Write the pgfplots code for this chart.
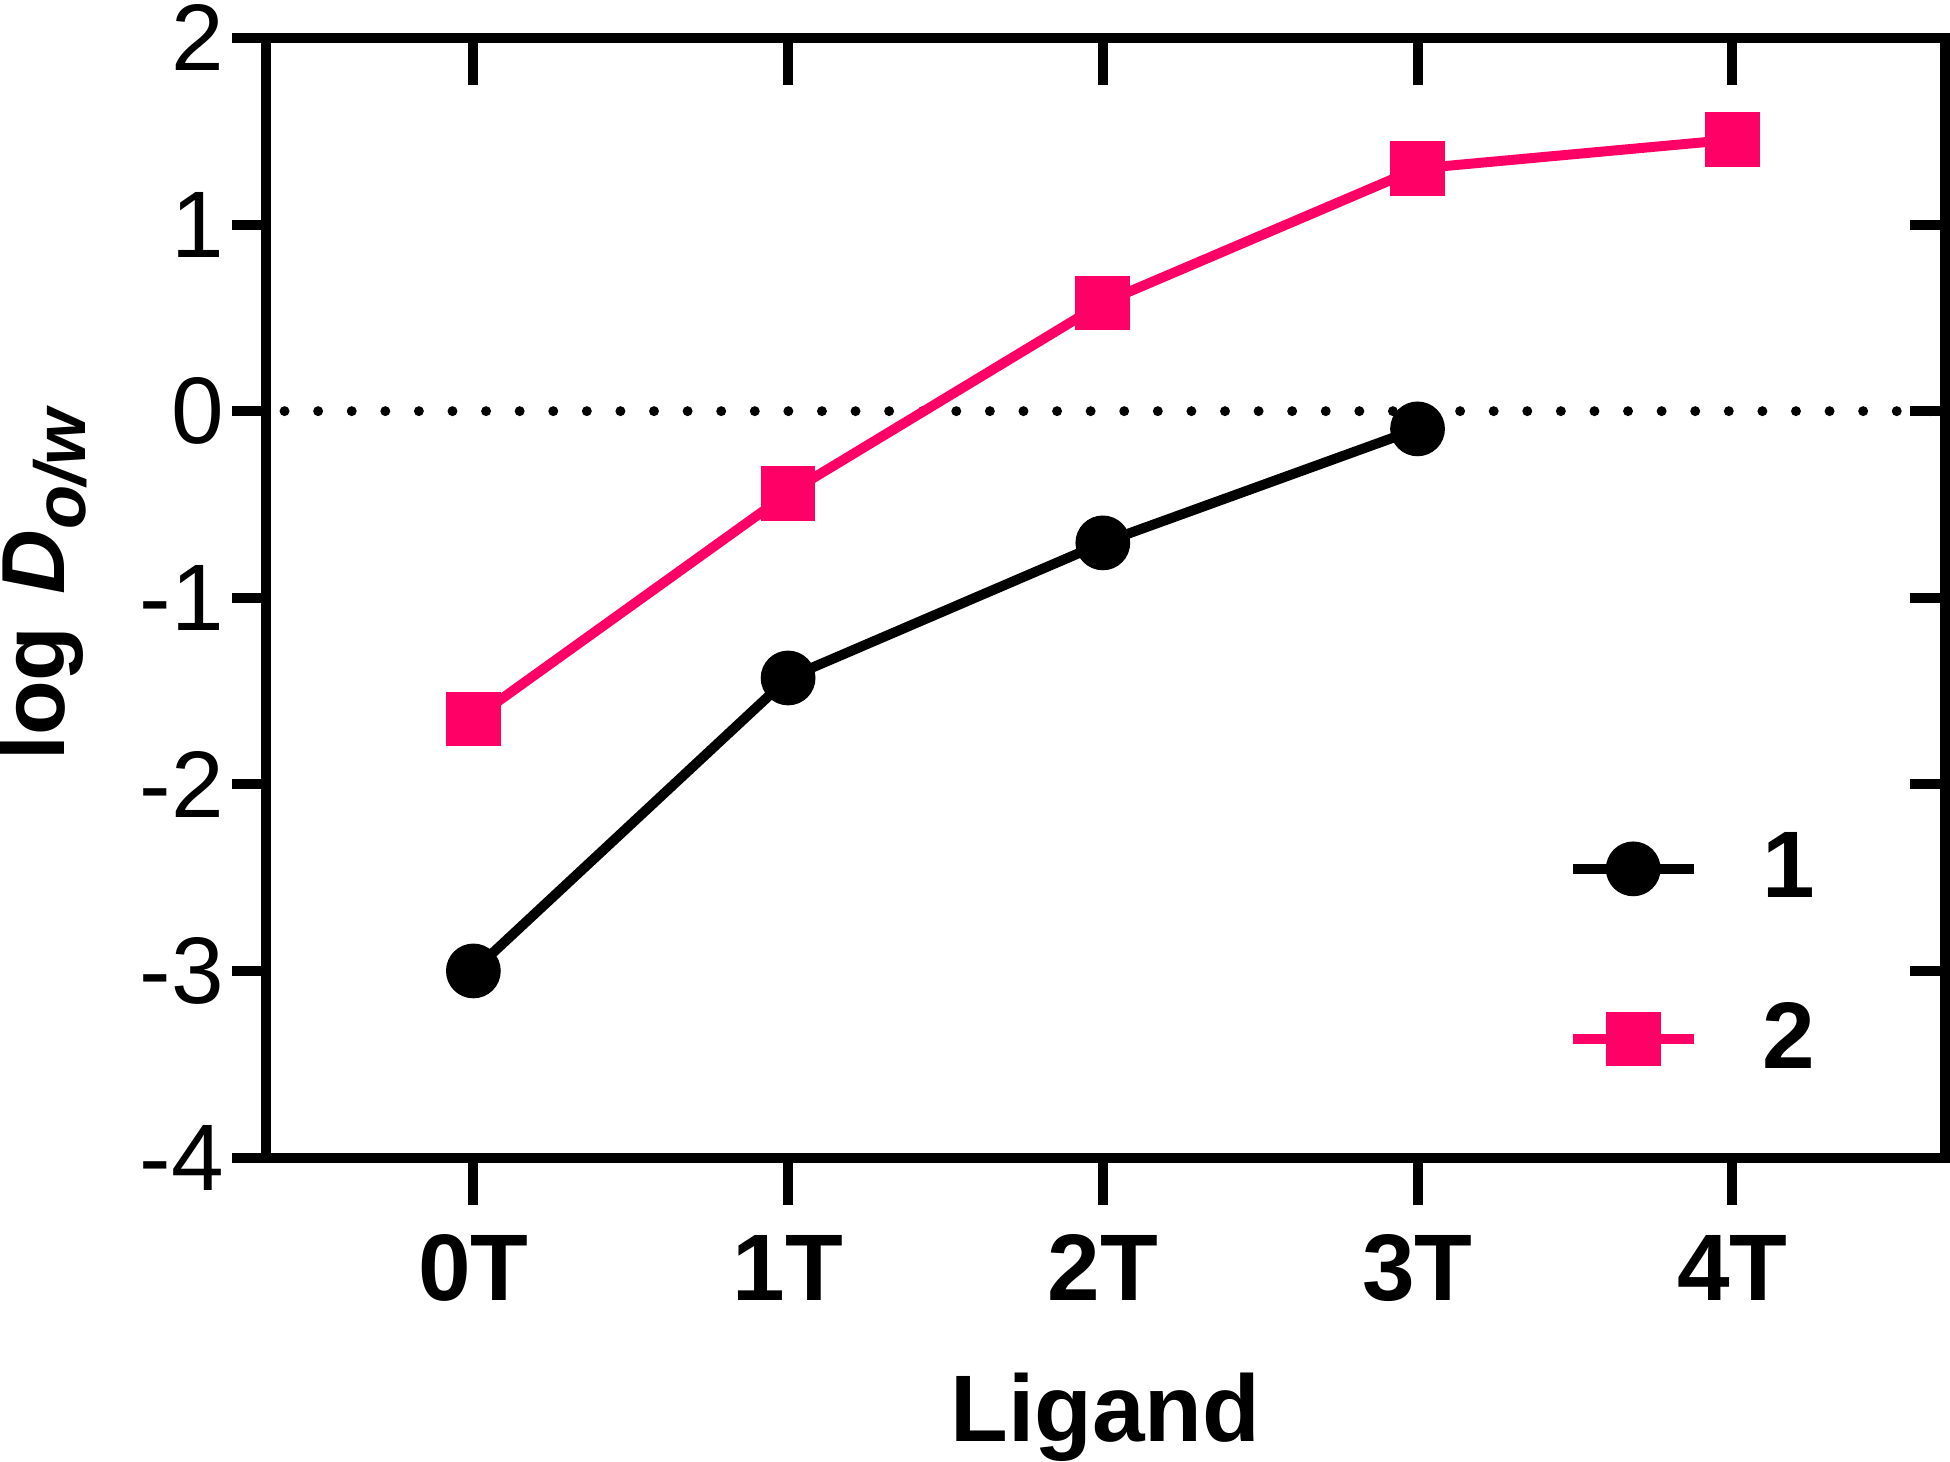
\documentclass[border=0pt]{standalone}
\usepackage{fontspec}
\setmainfont{Liberation Sans}
\usepackage{pgfplots}
\pgfplotsset{compat=1.18}
\definecolor{hotpink}{HTML}{FF0066}
\pgfplotsset{
  base/.style={
    width=337.5pt, height=225pt, scale only axis,
    xmin=-0.66, xmax=4.676, ymin=-4, ymax=2,
    axis line style={line width=2pt},
    every tick/.style={line width=2pt, black},
    /pgf/number format/assume math mode=true,
  },
}
\begin{document}
\begin{tikzpicture}[font=\fontsize{19}{23}\selectfont]
% main axis: box, data, x ticks bottom outside
\begin{axis}[base,
  major tick length=9.5pt, tick align=outside,
  xtick pos=bottom, xtick={0,1,2,3,4},
  xticklabels={\textbf{0T},\textbf{1T},\textbf{2T},\textbf{3T},\textbf{4T}},
  xticklabel style={anchor=base, yshift=-19.3pt, inner sep=0pt},
  ytick=\empty,
  xlabel={\textbf{Ligand}},
  xlabel style={at={(rel axis cs:0.5,0)}, anchor=base, yshift=-57pt, inner sep=0pt},
  ylabel={\fontsize{18}{21}\selectfont\bfseries log\hspace{6.5pt}\textit{D}\raisebox{-4.1pt}{\fontsize{14.5}{17}\selectfont\bfseries\itshape o/w}},
  ylabel style={at={(rel axis cs:0,0.5115)}, anchor=base, yshift=40.35pt, inner sep=0pt},
  clip=false,
  legend style={draw=none, fill=none, at={(axis cs:3.475,-2.2)}, anchor=north west,
    font=\fontsize{19}{23}\selectfont\bfseries, row sep=15.5pt, inner sep=0pt},
  legend cell align=left,
  legend image code/.code={\draw[mark repeat=2,mark phase=2,#1] plot coordinates {(0pt,0pt) (12.1pt,0pt) (24.25pt,0pt)}; \path (35pt,0pt);},
]
\addplot[black, line width=2pt, line cap=round, dash pattern=on 0pt off 6.75pt, forget plot]
  coordinates {(-0.6,0) (4.676,0)};
\addplot[black, line width=2pt, mark=*, mark size=4.5pt, mark options={solid}]
  coordinates {(0,-3.0) (1,-1.43) (2,-0.706) (3,-0.095)};
\addlegendentry{1}
\addplot[hotpink, line width=2pt, mark=square*, mark size=4.5pt, mark options={solid}]
  coordinates {(0,-1.65) (1,-0.44) (2,0.58) (3,1.30) (4,1.455)};
\addlegendentry{2}
\end{axis}
% left y ticks outside
\begin{axis}[base, axis line style={draw=none},
  major tick length=6.75pt, tick align=outside,
  xtick=\empty, ytick pos=left, ytick={-4,-3,-2,-1,0,1,2},
  yticklabels={-4,-3,-2,-1,0,1,2},
  yticklabel style={anchor=east, xshift=-1.45pt, inner xsep=0pt, inner ysep=1pt},
]
\end{axis}
\begin{scope}[overlay]
% top ticks inside
\begin{axis}[base, axis line style={draw=none},
  major tick length=9.5pt, tick align=inside,
  xtick pos=top, xtick={0,1,2,3,4}, xticklabels={}, ytick=\empty,
]
\end{axis}
% right ticks inside
\begin{axis}[base, axis line style={draw=none},
  major tick length=7pt, tick align=inside,
  ytick pos=right, ytick={-4,-3,-2,-1,0,1,2}, yticklabels={}, xtick=\empty,
]
\end{axis}
\end{scope}
\end{tikzpicture}
\end{document}
